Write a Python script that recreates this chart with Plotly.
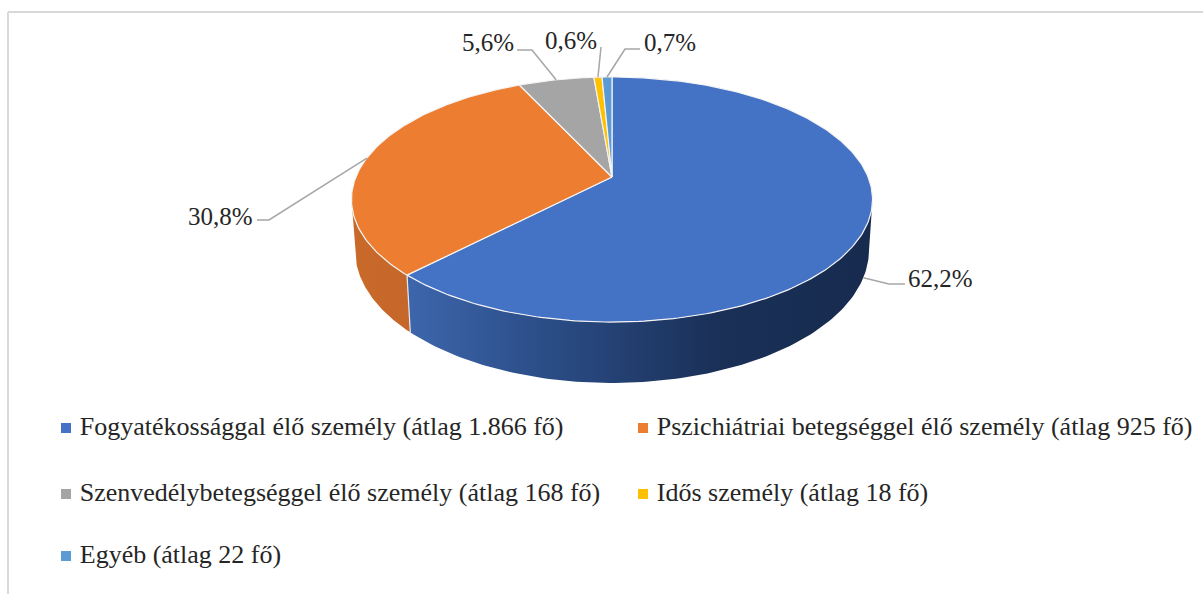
import numpy as np
import plotly.graph_objects as go

# Average headcount per group, the shares and slice angles come from these
categories = [
    "Fogyatékossággal élő személy",
    "Pszichiátriai betegséggel élő személy",
    "Szenvedélybetegséggel élő személy",
    "Idős személy",
    "Egyéb",
]
avg_labels = ["1.866", "925", "168", "18", "22"]
avg_counts = [1866, 925, 168, 18, 22]

top_colors = ["#4472C4", "#ED7D31", "#A5A5A5", "#FFC000", "#5B9BD5"]
wall_colors = [
    ["#3D66AC", "#294A82", "#1A3057", "#172B4F"],
    ["#C96A2A", "#C5672A"],
]

FONT = "Liberation Serif"
TEXT_COLOR = "#262626"
LEADER_COLOR = "#A6A6A6"

# Perspective of the pie disc and of its floor, in page pixels: (a, b, p, apex y)
APEX_X = 612
TOP_DISC = (256.1, 118.4, 0.1837, 177)
FLOOR_DISC = (252.8, 128.7, 0.18, 226)

# Label anchors: text position, then the elbow of the leader line
label_pos = [(940, 278), (220, 216), (488, 42), (571, 40), (670, 42)]
leader_from = [(905, 284), (257, 220), (517, 50), (601, 47), (640, 49)]
leader_elbow = [(889, 284), (269, 220), (532, 50), (601, 47), (625, 49)]

legend_pos = [(66, 428), (643, 428), (66, 494), (643, 494), (66, 556)]


def project(theta, disc=TOP_DISC):
    """Angle clockwise from 12 o'clock to page pixels on the tilted disc."""
    a, b, p, apex_y = disc
    u, v = np.sin(theta), np.cos(theta)
    w = 1 + p * v
    return APEX_X + a * u / w, apex_y - b * v / w


total = sum(avg_counts)
edges = np.cumsum([0] + avg_counts) / total * 2 * np.pi

fig = go.Figure()

# Side walls, only the front half of the disc shows
wall_start = np.arccos(-TOP_DISC[2])
wall_end = 2 * np.pi - wall_start
for i in [1, 0]:
    start = max(edges[i], wall_start)
    end = min(edges[i + 1], wall_end)
    t = np.linspace(start, end, 120)
    xt, yt = project(t)
    xb, yb = project(t[::-1], FLOOR_DISC)
    stops = wall_colors[i]
    # gradient runs left to right across the wall
    colorscale = [[k / (len(stops) - 1), c] for k, c in enumerate(stops)]
    fig.add_trace(
        go.Scatter(
            x=np.r_[xt, xb, xt[0]],
            y=np.r_[yt, yb, yt[0]],
            mode="lines",
            fill="toself",
            fillgradient=dict(type="horizontal", colorscale=colorscale),
            line=dict(width=0),
            hoverinfo="skip",
            showlegend=False,
        )
    )

# White seam down the wall between orange and blue
seam_x0, seam_y0 = project(edges[1])
seam_x1, seam_y1 = project(edges[1], FLOOR_DISC)
fig.add_trace(
    go.Scatter(
        x=[seam_x0, seam_x1],
        y=[seam_y0, seam_y1],
        mode="lines",
        line=dict(color="#E8E8E8", width=1.2),
        hoverinfo="skip",
        showlegend=False,
    )
)

# Top face
for i, name in enumerate(categories):
    t = np.linspace(edges[i], edges[i + 1], max(4, int(avg_counts[i] / total * 400)))
    x, y = project(t)
    fig.add_trace(
        go.Scatter(
            x=np.r_[APEX_X, x, APEX_X],
            y=np.r_[TOP_DISC[3], y, TOP_DISC[3]],
            mode="lines",
            fill="toself",
            fillcolor=top_colors[i],
            line=dict(color="#F4F4F4", width=1.2),
            name=name,
            hoverinfo="name",
            showlegend=False,
        )
    )

# Percent labels and their leader lines
for i, count in enumerate(avg_counts):
    pct = f"{count / total * 100:.1f}%".replace(".", ",")
    mid = (edges[i] + edges[i + 1]) / 2
    # the blue slice's label leaves from the wall, the others from the rim
    edge_x, edge_y = project(mid, FLOOR_DISC if i == 0 else TOP_DISC)
    fig.add_trace(
        go.Scatter(
            x=[leader_from[i][0], leader_elbow[i][0], edge_x],
            y=[leader_from[i][1], leader_elbow[i][1], edge_y],
            mode="lines",
            line=dict(color=LEADER_COLOR, width=1.5),
            hoverinfo="skip",
            showlegend=False,
        )
    )
    fig.add_annotation(
        x=label_pos[i][0],
        y=label_pos[i][1],
        text=pct,
        showarrow=False,
        font=dict(family=FONT, size=25, color=TEXT_COLOR),
    )

# Hand-placed legend, the rows are wider apart than Plotly's own legend allows
for i, name in enumerate(categories):
    lx, ly = legend_pos[i]
    fig.add_trace(
        go.Scatter(
            x=[lx],
            y=[ly],
            mode="markers+text",
            marker=dict(symbol="square", size=10, color=top_colors[i]),
            text=[f" {name} (átlag {avg_labels[i]} fő)"],
            textposition="middle right",
            textfont=dict(family=FONT, size=26, color=TEXT_COLOR),
            hoverinfo="skip",
            showlegend=False,
        )
    )

# Grey frame along the top and left
fig.add_shape(type="line", x0=8, x1=1203, y0=12, y1=12, line=dict(color="#D9D9D9", width=2))
fig.add_shape(type="line", x0=8, x1=8, y0=12, y1=594, line=dict(color="#D9D9D9", width=2))

fig.update_layout(
    width=1203,
    height=594,
    margin=dict(l=0, r=0, t=0, b=0),
    paper_bgcolor="white",
    plot_bgcolor="white",
    showlegend=False,
    xaxis=dict(range=[0, 1203], visible=False, fixedrange=True),
    yaxis=dict(range=[594, 0], visible=False, fixedrange=True),
)

fig.write_html(
    "out.html",
    config={"displayModeBar": False},
    post_script="document.body.style.margin='0';document.body.style.overflow='hidden';",
)
